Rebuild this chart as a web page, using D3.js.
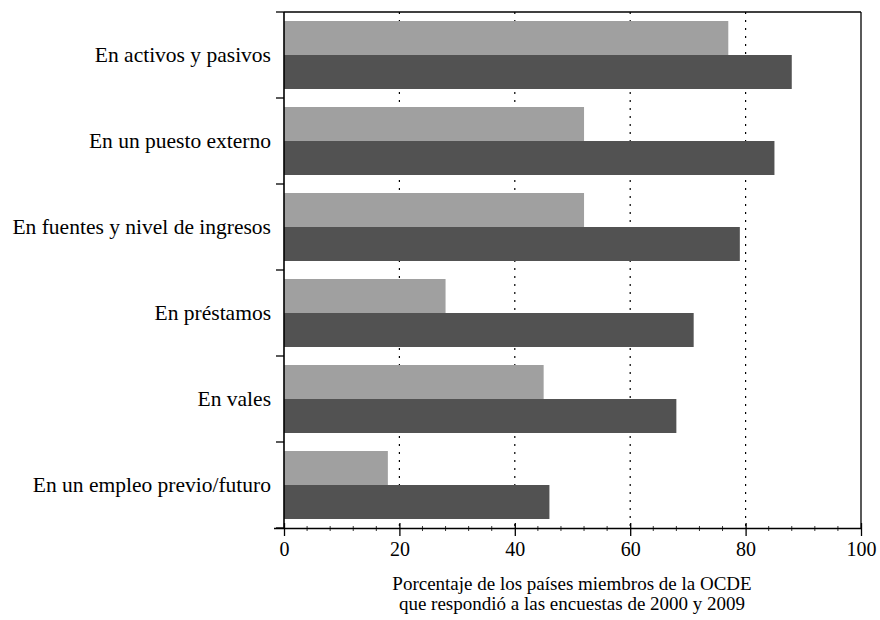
<!DOCTYPE html>
<html><head><meta charset="utf-8">
<script src="https://cdn.jsdelivr.net/npm/d3@7"></script>
<style>body{margin:0;background:#fff}</style>
</head><body><svg id="c" width="880" height="620"></svg>
<script>
const categories = ["En activos y pasivos","En un puesto externo","En fuentes y nivel de ingresos","En préstamos","En vales","En un empleo previo/futuro"];
const values2000 = [77, 52, 52, 28, 45, 18];
const values2009 = [88, 85, 79, 71, 68, 46];
const xTicks = [0, 20, 40, 60, 80, 100];
const xTitle = ["Porcentaje de los países miembros de la OCDE", "que respondió a las encuestas de 2000 y 2009"];

const FONT = "Liberation Serif, Times New Roman, Times, DejaVu Serif, serif";
const svg = d3.select("#c").attr("font-family", FONT);
const L = 284, R = 861, T = 12, B = 528;
const x = d3.scaleLinear().domain([0, 100]).range([L, R]);
const y = d3.scaleBand().domain(categories).range([T, B]);
const inner = d3.scaleBand().domain(["a","b"]).range([0, y.bandwidth()]).paddingOuter(0.265).paddingInner(0);

// gridlines
svg.append("g").selectAll("line").data(xTicks.filter(d => d > 0 && d < 100)).join("line")
  .attr("x1", d => x(d)).attr("x2", d => x(d)).attr("y1", T).attr("y2", B)
  .attr("stroke", "#000").attr("stroke-width", 1.2).attr("stroke-dasharray", "2,6");

// bars
const g = svg.append("g");
g.selectAll("rect.a").data(categories).join("rect").attr("class","a")
  .attr("x", x(0)).attr("y", (d) => y(d) + inner("a")).attr("height", inner.bandwidth())
  .attr("width", (d, i) => x(values2000[i]) - x(0)).attr("fill", "#a0a0a0");
g.selectAll("rect.b").data(categories).join("rect").attr("class","b")
  .attr("x", x(0)).attr("y", (d) => y(d) + inner("b")).attr("height", inner.bandwidth())
  .attr("width", (d, i) => x(values2009[i]) - x(0)).attr("fill", "#525252");

// frame
svg.append("line").attr("x1", L).attr("x2", R).attr("y1", T).attr("y2", T).attr("stroke","#000").attr("stroke-width",1.3);
svg.append("line").attr("x1", R).attr("x2", R).attr("y1", T).attr("y2", B).attr("stroke","#000").attr("stroke-width",1.3);

// x axis
const xa = svg.append("g").attr("transform", `translate(0,${B})`)
  .call(d3.axisBottom(x).tickValues(xTicks).tickSize(8).tickPadding(6).tickFormat(d3.format("d")));
xa.attr("font-family", FONT).attr("font-size", 20);
xa.select(".domain").attr("stroke-width", 1.3).attr("d", `M${L - 10},0.5H${R}`);
xa.selectAll(".tick line").attr("stroke-width", 1.3).attr("y1", -5);
// minor ticks
svg.append("g").selectAll("line").data(d3.range(0, 101, 4).filter(d => d % 20 !== 0)).join("line")
  .attr("x1", d => x(d)).attr("x2", d => x(d)).attr("y1", B - 2).attr("y2", B + 3)
  .attr("stroke", "#000").attr("stroke-width", 0.8);

// y axis
svg.append("line").attr("x1", L).attr("x2", L).attr("y1", T).attr("y2", B).attr("stroke","#000").attr("stroke-width",1.6);
const bounds = categories.map(c => y(c)).concat([B]);
svg.append("g").selectAll("line").data(bounds).join("line")
  .attr("x1", L - 8).attr("x2", L).attr("y1", d => d).attr("y2", d => d)
  .attr("stroke", "#000").attr("stroke-width", 1.3);
svg.append("g").selectAll("text").data(categories).join("text")
  .attr("x", 271).attr("y", d => y(d) + y.bandwidth() / 2).attr("dy", "0.33em")
  .attr("text-anchor", "end").attr("font-size", 21.5).text(d => d);

// title
svg.append("g").selectAll("text").data(xTitle).join("text")
  .attr("text-anchor", "middle").attr("font-size", 19)
  .attr("x", 572).attr("y", (d, i) => 590 + i * 20).text(d => d);
</script></body></html>
